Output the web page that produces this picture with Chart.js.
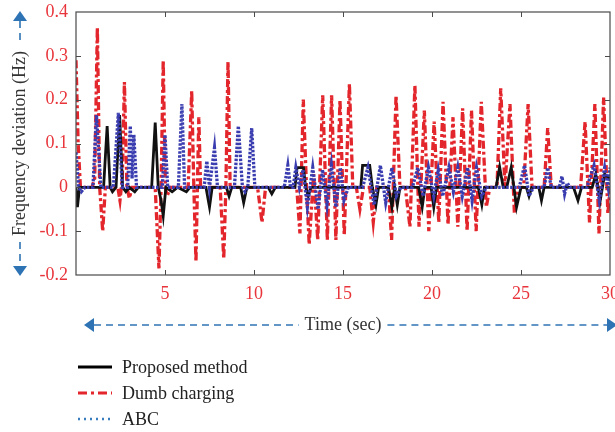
<!DOCTYPE html>
<html>
<head>
<meta charset="utf-8">
<script src="https://cdn.jsdelivr.net/npm/chart.js@4.4.1/dist/chart.umd.min.js"></script>
<style>
  html, body { margin: 0; padding: 0; background: #ffffff; }
  #wrap { position: relative; width: 615px; height: 432px; }
  #chart { position: absolute; left: 0; top: 0; }
  #legend { position: absolute; left: 77px; top: 354px; font-family: "Liberation Serif", serif; font-size: 18px; color: #222; }
  .row { height: 26px; display: flex; align-items: center; }
  .row svg { display: block; margin-right: 9px; }
</style>
</head>
<body>
<div id="wrap">
  <canvas id="chart" width="615" height="432"></canvas>
  <div id="legend"></div>
</div>
<script>
// ---------- data ----------
const seriesNames = ['Proposed method', 'Dumb charging', 'ABC'];

const xTicks = [0, 5, 10, 15, 20, 25, 30];
const xTickLabels = ['', '5', '10', '15', '20', '25', '30'];
const yTicks = [-0.2, -0.1, 0, 0.1, 0.2, 0.3, 0.4];
const yTickLabels = ['-0.2', '-0.1', '0', '0.1', '0.2', '0.3', '0.4'];

// Proposed method (time in s, deviation in Hz)
const propTime = [
  0, 0.08, 0.2,
  1.55, 1.75, 1.92, 2.05, 2.25,
  2.45, 2.62, 2.8, 3.0, 3.3, 3.5,
  4.25, 4.45, 4.62, 4.78, 4.9, 5.05,
  5.4, 5.7, 6.2, 6.4,
  7.3, 7.5, 7.65,
  8.45, 8.6, 8.75,
  9.25, 9.42, 9.6,
  10.8, 11.0, 11.2,
  12.3, 12.42, 12.78, 12.9, 13.05, 13.2,
  16.0, 16.1, 16.5, 16.65, 16.85, 17.0,
  17.55, 17.75, 17.9, 18.05, 18.2,
  19.25, 19.45, 19.6,
  19.95, 20.1, 20.25,
  22.6, 22.8, 22.95,
  23.6, 23.8, 24.0,
  24.2, 24.45, 24.75, 25.0,
  25.3, 25.45, 25.6,
  26.0, 26.15, 26.3,
  27.95, 28.2, 28.4,
  29.0, 29.2, 29.45, 29.7, 30
];
const propValues = [
  0, -0.045, 0,
  0, 0.14, 0, -0.01, 0,
  0.165, 0, -0.01, 0, -0.01, 0,
  0, 0.148, 0, -0.03, -0.065, 0,
  -0.01, 0, -0.01, 0,
  0, -0.045, 0,
  0, -0.02, 0,
  0, -0.035, 0,
  0, -0.015, 0,
  0, 0.045, 0.045, 0, -0.02, 0,
  0, 0.05, 0.05, 0, -0.04, 0,
  0, -0.045, 0, -0.04, 0,
  0, -0.045, 0,
  0, -0.045, 0,
  0, -0.04, 0,
  0, 0.046, 0,
  0, 0.046, -0.045, 0,
  0, -0.02, 0,
  0, -0.03, 0,
  0, -0.03, 0,
  0, 0.03, -0.03, 0.03, 0.02
];

// Dumb charging
const dumbTime = [
  0, 0.12, 0.25, 0.9, 1.05, 1.2, 1.33, 1.5, 1.65,
  2.35, 2.47, 2.6, 2.72, 2.86, 3.0, 3.15,
  4.45, 4.66, 4.78, 4.9, 5.02, 5.12, 5.3,
  6.3, 6.5, 6.62, 6.74, 6.82, 6.9, 7.0,
  8.1, 8.3, 8.42, 8.54, 8.66,
  10.2, 10.45, 10.65,
  12.4, 12.58, 12.77, 12.95, 13.1, 13.35, 13.58, 13.86, 14.12, 14.36, 14.6, 14.83, 15.07, 15.36,
  15.55, 15.75, 15.95, 16.15, 16.5, 16.7, 16.9,
  17.55, 17.73, 17.98, 18.2, 18.5,
  18.76, 19.04, 19.27, 19.57, 19.82, 20.12, 20.38, 20.62, 20.9, 21.18, 21.45, 21.72, 21.97, 22.22, 22.48, 22.77,
  23.05, 23.25, 23.65, 23.86, 24.1, 24.38, 24.63, 24.85, 25.15, 25.4, 25.62,
  26.3, 26.5, 26.7,
  28.35, 28.6, 28.85, 29.15, 29.38, 29.64, 29.88, 30
];
const dumbValues = [
  0.29, 0.1, 0, 0, 0.02, 0.365, 0, -0.1, 0,
  0, -0.03, 0.02, 0.24, 0, -0.025, 0,
  0, -0.185, 0, 0.29, 0, -0.02, 0,
  0, 0.22, 0, -0.17, 0, 0.16, 0,
  0, -0.163, 0, 0.287, 0,
  0, -0.08, 0,
  0, -0.105, 0.2, 0, -0.13, 0.03, -0.12, 0.21, -0.12, 0.21, -0.12, 0.2, -0.11, 0.236,
  0, 0, -0.05, 0, 0, -0.08, 0,
  0, -0.12, 0.21, 0, 0,
  -0.09, 0.233, -0.09, 0.175, -0.1, 0.15, -0.08, 0.195, -0.085, 0.16, -0.09, 0.18, -0.1, 0.175, -0.1, 0.195,
  -0.045, 0, 0, 0.226, 0, 0.19, -0.06, 0, 0, 0.19, 0,
  0, 0.135, 0,
  0, 0.15, -0.08, 0.19, -0.105, 0.205, -0.06, 0
];

// ABC
const abcTime = [
  0, 0.15, 0.3, 0.5,
  0.95, 1.15, 1.4,
  2.1, 2.38, 2.6,
  2.9, 3.05, 3.15, 3.25, 3.4,
  4.85, 5.0, 5.15,
  5.75, 5.95, 6.1,
  7.2, 7.35, 7.5, 7.78, 7.95,
  8.9, 9.12, 9.35, 9.5, 9.65, 9.87, 10.05,
  11.7, 11.9, 12.05,
  12.2, 12.35, 12.55, 12.75, 13.0, 13.3, 13.6, 13.85, 14.1, 14.35, 14.6, 14.85, 15.05, 15.3,
  16.1, 16.4, 16.75, 17.1, 17.4, 17.75, 18.0, 18.25, 18.9,
  19.2, 19.5, 19.8, 20.1, 20.35, 20.6, 20.95, 21.2, 21.45, 21.7, 22.0, 22.25, 22.5, 22.8, 23.05,
  24.9, 25.2, 25.45, 25.7,
  26.3, 26.5, 26.7,
  27.15, 27.3, 27.45, 27.6, 27.75,
  28.7, 29.1, 29.4, 29.7, 29.9, 30
];
const abcValues = [
  0.08, 0, -0.01, 0,
  0, 0.165, 0,
  0, 0.17, 0,
  0, 0.14, 0.02, 0.12, 0,
  0, 0.12, 0,
  0, 0.19, 0,
  0, 0.06, 0, 0.09, 0,
  0, 0.14, 0, -0.01, 0, 0.135, 0,
  0, 0.05, 0,
  0, 0.045, 0, 0.04, -0.045, 0.045, -0.05, 0.04, -0.04, 0.05, -0.045, 0.045, -0.03, 0,
  0, 0.045, -0.04, 0.05, -0.035, 0.045, -0.02, 0, 0,
  0.045, -0.02, 0.045, -0.02, 0.04, -0.02, 0.045, -0.01, 0.045, -0.02, 0.045, -0.03, 0.045, -0.02, 0,
  0, 0.05, -0.02, 0,
  0, 0.045, 0,
  0, 0.025, -0.015, 0.01, 0,
  0, 0.05, -0.03, 0.045, 0, 0.045
];

// ---------- styles ----------
const FONT = '"Liberation Serif", "Times New Roman", serif';
const TICK_RED = '#e8353b';
const ARROW_BLUE = '#2e74b5';
const seriesColors = ['#111111', '#e3252c', '#3a3db0'];
const legendColors = ['#000000', '#e3252c', '#3a7cc0'];
const seriesDash = [[], [8, 3, 3, 3], [2.5, 1.5]];
const seriesWidth = [2.8, 3.3, 3.3];

const toPts = (ts, vs) => ts.map((t, i) => ({ x: t, y: vs[i] }));
const seriesData = [toPts(propTime, propValues), toPts(dumbTime, dumbValues), toPts(abcTime, abcValues)];
const drawOrder = [2, 3, 1];

Chart.defaults.font.family = FONT;

const decor = {
  id: 'decor',
  afterDatasetsDraw(chart) {
    const { ctx, chartArea: a, scales: { x, y } } = chart;
    ctx.save();
    ctx.strokeStyle = '#4a4a4a';
    ctx.lineWidth = 1.2;
    ctx.strokeRect(a.left, a.top, a.right - a.left, a.bottom - a.top);
    ctx.lineWidth = 1;
    const tl = 5;
    const seg = (x1, y1, x2, y2) => { ctx.beginPath(); ctx.moveTo(x1, y1); ctx.lineTo(x2, y2); ctx.stroke(); };
    xTicks.forEach(v => {
      if (v <= x.min || v >= x.max) return;
      const p = Math.round(x.getPixelForValue(v)) + 0.5;
      seg(p, a.bottom, p, a.bottom - tl);
      seg(p, a.top, p, a.top + tl);
    });
    yTicks.forEach(v => {
      if (v <= y.min + 1e-9 || v >= y.max - 1e-9) return;
      const p = Math.round(y.getPixelForValue(v)) + 0.5;
      seg(a.left, p, a.left + tl, p);
      seg(a.right, p, a.right - tl, p);
    });
    ctx.restore();
  },
  afterDraw(chart) {
    const { ctx, chartArea: a } = chart;
    ctx.save();
    ctx.font = '18px ' + FONT;
    ctx.strokeStyle = ARROW_BLUE;
    ctx.fillStyle = ARROW_BLUE;
    ctx.lineWidth = 1.6;
    const dashed = (x1, y1, x2, y2) => {
      ctx.setLineDash([7, 5]);
      ctx.beginPath(); ctx.moveTo(x1, y1); ctx.lineTo(x2, y2); ctx.stroke();
      ctx.setLineDash([]);
    };
    const tri = (pts) => {
      ctx.beginPath(); ctx.moveTo(pts[0], pts[1]); ctx.lineTo(pts[2], pts[3]); ctx.lineTo(pts[4], pts[5]); ctx.closePath(); ctx.fill();
    };
    // y axis title arrows
    const yw = ctx.measureText(chart.options.scales.y.title.text).width;
    const ycx = 20, ycy = (a.top + a.bottom) / 2;
    tri([ycx, 11, ycx - 7, 21, ycx + 7, 21]);
    dashed(ycx, 21, ycx, ycy - yw / 2 - 6);
    dashed(ycx, ycy + yw / 2 + 6, ycx, 266);
    tri([ycx, 276, ycx - 7, 266, ycx + 7, 266]);
    // x axis title arrows
    const xw = ctx.measureText(chart.options.scales.x.title.text).width;
    const xcx = (a.left + a.right) / 2, xcy = 325;
    tri([84, xcy, 94, xcy - 7, 94, xcy + 7]);
    dashed(94, xcy, xcx - xw / 2 - 6, xcy);
    dashed(xcx + xw / 2 + 6, xcy, 607, xcy);
    tri([617, xcy, 607, xcy - 7, 607, xcy + 7]);
    ctx.restore();
  }
};

new Chart(document.getElementById('chart'), {
  type: 'line',
  data: {
    datasets: seriesNames.map((name, i) => ({
      label: name,
      data: seriesData[i],
      borderColor: seriesColors[i],
      backgroundColor: seriesColors[i],
      borderWidth: seriesWidth[i],
      borderDash: seriesDash[i],
      pointRadius: 0,
      tension: 0,
      fill: false,
      order: drawOrder[i]
    }))
  },
  options: {
    responsive: false,
    animation: false,
    layout: { padding: { left: 0, top: 12, right: 5, bottom: 0 } },
    plugins: { legend: { display: false }, tooltip: { enabled: false } },
    scales: {
      x: {
        type: 'linear', min: 0, max: 30,
        afterBuildTicks: s => { s.ticks = xTicks.map(v => ({ value: v })); },
        ticks: {
          autoSkip: false, maxRotation: 0, padding: 8, color: TICK_RED,
          font: { size: 18 },
          callback: (v, i) => xTickLabels[i]
        },
        grid: { display: false, drawTicks: false },
        border: { display: false },
        title: { display: true, text: 'Time (sec)', color: '#333', font: { size: 18 }, padding: { top: 0, bottom: 96 } },
        afterFit: s => { s.height = 157; s.paddingLeft = 0; s.paddingRight = 0; }
      },
      y: {
        type: 'linear', min: -0.2, max: 0.4,
        afterBuildTicks: s => { s.ticks = yTicks.map(v => ({ value: v })); },
        ticks: {
          autoSkip: false, padding: 8, color: TICK_RED,
          font: { size: 18 },
          callback: (v, i) => yTickLabels[i]
        },
        grid: { display: false, drawTicks: false },
        border: { display: false },
        title: { display: true, text: 'Frequency deviation (Hz)', color: '#333', font: { size: 18 }, padding: { top: 9, bottom: 0 } },
        afterFit: s => { s.width = 76; s.paddingTop = 0; s.paddingBottom = 0; }
      }
    }
  },
  plugins: [decor]
});

// ---------- legend (HTML) ----------
const legendEl = document.getElementById('legend');
seriesNames.forEach((name, i) => {
  const row = document.createElement('div');
  row.className = 'row';
  const dash = i === 1 ? 'stroke-dasharray="9 4 3 4"' : (i === 2 ? 'stroke-dasharray="2 4"' : '');
  row.innerHTML = '<svg width="36" height="26"><line x1="1" y1="13" x2="35" y2="13" stroke="' + legendColors[i] +
    '" stroke-width="' + (i === 2 ? 2.5 : 3) + '" ' + dash + '/></svg>';
  const span = document.createElement('span');
  span.textContent = name;
  row.appendChild(span);
  legendEl.appendChild(row);
});
</script>
</body>
</html>
